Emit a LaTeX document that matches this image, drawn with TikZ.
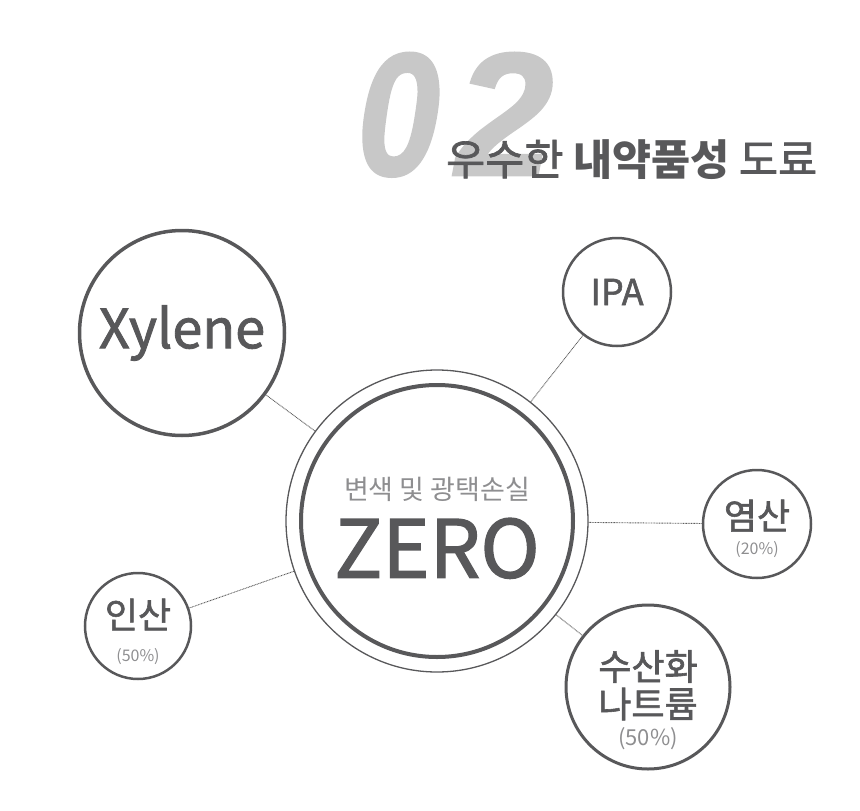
\documentclass[tikz,border=0pt]{standalone}
\usepackage{fontspec}
\setmainfont{Noto Sans CJK KR}
\newfontfamily\medfont[FakeBold=1.6]{Noto Sans CJK KR}
\newfontfamily\numfont[FakeBold=1.5]{Liberation Sans Bold Italic}
\usetikzlibrary{positioning}

\definecolor{ink}{HTML}{58585A}
\definecolor{soft}{HTML}{8E8E90}
\definecolor{pale}{HTML}{C8C8C8}
\definecolor{wire}{HTML}{5E5E5E}

\begin{document}
\begin{tikzpicture}[x=1pt, y=-1pt,
    bub/.style={draw=ink, circle, inner sep=0pt, align=center, text=ink},
    tag/.style={inner sep=0pt, align=center, text=ink},
    link/.style={draw=wire, line width=0.9pt, dash pattern=on 0.9pt off 0.7pt}
]
\useasboundingbox (0,0) rectangle (860,811);

% heading
\node[text=pale, anchor=base west, inner sep=0pt, font=\numfont\fontsize{175}{175}\selectfont] (num) at (357,175) {\scalebox{0.85}[1]{0}\kern16pt 2};
\node[text=ink, anchor=base west, inner sep=0pt, font=\medfont\fontsize{42.5}{42}\selectfont] (title) at (446,175) {우수한 {\normalfont\bfseries\fontsize{42.5}{42}\selectfont 내약품성} 도료};

% centre
\node[circle, draw=ink, line width=1.3pt, minimum size=302pt, inner sep=0pt] (zero) at (437,521) {};
\draw[ink, line width=4pt] (zero.center) circle[radius=136pt];
\node[tag, font=\medfont\fontsize{80}{78}\selectfont] (zerotxt) at ([yshift=-7pt]zero.center)
    {{\normalfont\color{soft}\fontsize{27}{30}\selectfont 변색 및 광택손실}\\ZERO};

% chemicals
\node[bub, line width=3.5pt, minimum size=205pt, font=\medfont\fontsize{54}{60}\selectfont] (xyl) at (182,333) {Xylene};
\node[bub, line width=2.5pt, minimum size=108pt, font=\medfont\fontsize{36}{40}\selectfont] (ipa) at (617,292) {IPA};
\node[bub, line width=2.5pt, minimum size=108pt] (hcl) at (757,524) {};
\node[tag, font=\fontsize{16}{25}\selectfont] (hcltxt) at ([yshift=-4.5pt]hcl.center)
    {{\medfont\fontsize{36}{38}\selectfont 염산}\\{\color{soft}(20\%)}};
\node[bub, line width=2.5pt, minimum size=106pt] (hpo) at (138,626) {};
\node[tag, font=\fontsize{16}{33}\selectfont] (hpotxt) at ([yshift=-5.5pt]hpo.center)
    {{\medfont\fontsize{36}{38}\selectfont 인산}\\{\color{soft}(50\%)}};
\node[bub, line width=3pt, minimum size=164pt] (naoh) at (648,687) {};
\node[tag, font=\fontsize{22}{28}\selectfont] (naohtxt) at ([yshift=-13pt]naoh.center)
    {{\medfont\fontsize{36}{38}\selectfont 수산화}\\[4pt]{\medfont\fontsize{36}{38}\selectfont 나트륨}\\{\color{soft}(50\%)}};

% links
\draw[link] (zero) -- (xyl);
\draw[link] (zero) -- (ipa);
\draw[link] (zero) -- (hcl);
\draw[link] (zero) -- (hpo);
\draw[link] (zero) -- (naoh);
\end{tikzpicture}
\end{document}
